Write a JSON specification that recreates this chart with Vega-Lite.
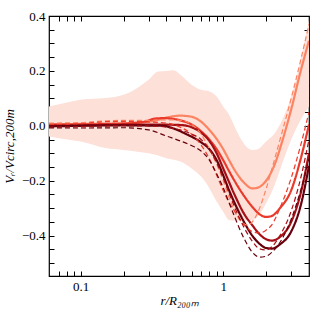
{
  "$schema": "https://vega.github.io/schema/vega-lite/v6.json",
  "width": 260,
  "height": 260,
  "autosize": "none",
  "padding": {"left": 49, "top": 16, "right": 16, "bottom": 49},
  "config": {
    "view": {"stroke": "black", "strokeWidth": 1.2},
    "axis": {"grid": false, "domain": false, "ticks": true, "tickColor": "black", "tickWidth": 1, "labelFont": "Liberation Serif", "labelFontSize": 13, "labelColor": "black", "titleFont": "Liberation Serif", "titleFontSize": 13, "titleFontWeight": "normal", "titleColor": "black"}
  },
  "resolve": {"axis": {"x": "independent", "y": "independent"}},
  "datasets": {
    "band": [
      {"r": 0.06, "lo": -0.039, "hi": 0.07},
      {"r": 0.08, "lo": -0.05, "hi": 0.085},
      {"r": 0.1, "lo": -0.057, "hi": 0.095},
      {"r": 0.15, "lo": -0.081, "hi": 0.101},
      {"r": 0.2, "lo": -0.088, "hi": 0.113},
      {"r": 0.25, "lo": -0.094, "hi": 0.138},
      {"r": 0.3, "lo": -0.1, "hi": 0.168},
      {"r": 0.35, "lo": -0.108, "hi": 0.198},
      {"r": 0.4, "lo": -0.118, "hi": 0.2},
      {"r": 0.45, "lo": -0.124, "hi": 0.202},
      {"r": 0.5, "lo": -0.13, "hi": 0.186},
      {"r": 0.6, "lo": -0.155, "hi": 0.15},
      {"r": 0.7, "lo": -0.185, "hi": 0.131},
      {"r": 0.8, "lo": -0.227, "hi": 0.125},
      {"r": 0.9, "lo": -0.276, "hi": 0.107},
      {"r": 1.0, "lo": -0.313, "hi": 0.07},
      {"r": 1.1, "lo": -0.343, "hi": 0.04},
      {"r": 1.2, "lo": -0.345, "hi": -0.002},
      {"r": 1.3, "lo": -0.345, "hi": -0.039},
      {"r": 1.45, "lo": -0.345, "hi": -0.075},
      {"r": 1.6, "lo": -0.343, "hi": -0.088},
      {"r": 1.75, "lo": -0.331, "hi": -0.085},
      {"r": 2.0, "lo": -0.282, "hi": -0.057},
      {"r": 2.3, "lo": -0.215, "hi": -0.027},
      {"r": 2.6, "lo": -0.136, "hi": 0.022},
      {"r": 3.0, "lo": -0.051, "hi": 0.107},
      {"r": 3.5, "lo": 0.022, "hi": 0.24},
      {"r": 4.0, "lo": 0.07, "hi": 0.387}
    ],
    "lines": [
      {"s": "a", "t": "solid", "r": 0.06, "v": 0.005}, {"s": "a", "t": "solid", "r": 0.1, "v": 0.007}, {"s": "a", "t": "solid", "r": 0.2, "v": 0.009}, {"s": "a", "t": "solid", "r": 0.3, "v": 0.015}, {"s": "a", "t": "solid", "r": 0.35, "v": 0.022}, {"s": "a", "t": "solid", "r": 0.4, "v": 0.03}, {"s": "a", "t": "solid", "r": 0.5, "v": 0.037}, {"s": "a", "t": "solid", "r": 0.6, "v": 0.033}, {"s": "a", "t": "solid", "r": 0.7, "v": 0.015}, {"s": "a", "t": "solid", "r": 0.8, "v": -0.015}, {"s": "a", "t": "solid", "r": 0.9, "v": -0.048}, {"s": "a", "t": "solid", "r": 1.0, "v": -0.085}, {"s": "a", "t": "solid", "r": 1.1, "v": -0.125}, {"s": "a", "t": "solid", "r": 1.2, "v": -0.16}, {"s": "a", "t": "solid", "r": 1.4, "v": -0.207}, {"s": "a", "t": "solid", "r": 1.6, "v": -0.228}, {"s": "a", "t": "solid", "r": 1.75, "v": -0.225}, {"s": "a", "t": "solid", "r": 2.0, "v": -0.2}, {"s": "a", "t": "solid", "r": 2.3, "v": -0.14}, {"s": "a", "t": "solid", "r": 2.6, "v": -0.055}, {"s": "a", "t": "solid", "r": 3.0, "v": 0.06}, {"s": "a", "t": "solid", "r": 3.5, "v": 0.2}, {"s": "a", "t": "solid", "r": 4.0, "v": 0.31},
      {"s": "b", "t": "solid", "r": 0.06, "v": 0.004}, {"s": "b", "t": "solid", "r": 0.1, "v": 0.005}, {"s": "b", "t": "solid", "r": 0.2, "v": 0.008}, {"s": "b", "t": "solid", "r": 0.28, "v": 0.015}, {"s": "b", "t": "solid", "r": 0.33, "v": 0.026}, {"s": "b", "t": "solid", "r": 0.38, "v": 0.028}, {"s": "b", "t": "solid", "r": 0.45, "v": 0.025}, {"s": "b", "t": "solid", "r": 0.5, "v": 0.02}, {"s": "b", "t": "solid", "r": 0.6, "v": 0.005}, {"s": "b", "t": "solid", "r": 0.7, "v": -0.02}, {"s": "b", "t": "solid", "r": 0.8, "v": -0.05}, {"s": "b", "t": "solid", "r": 0.9, "v": -0.085}, {"s": "b", "t": "solid", "r": 1.0, "v": -0.125}, {"s": "b", "t": "solid", "r": 1.1, "v": -0.165}, {"s": "b", "t": "solid", "r": 1.2, "v": -0.2}, {"s": "b", "t": "solid", "r": 1.4, "v": -0.255}, {"s": "b", "t": "solid", "r": 1.6, "v": -0.295}, {"s": "b", "t": "solid", "r": 1.8, "v": -0.322}, {"s": "b", "t": "solid", "r": 2.0, "v": -0.332}, {"s": "b", "t": "solid", "r": 2.2, "v": -0.328}, {"s": "b", "t": "solid", "r": 2.5, "v": -0.3}, {"s": "b", "t": "solid", "r": 3.0, "v": -0.235}, {"s": "b", "t": "solid", "r": 3.5, "v": -0.12}, {"s": "b", "t": "solid", "r": 4.0, "v": 0.005},
      {"s": "c", "t": "solid", "r": 0.06, "v": 0.0}, {"s": "c", "t": "solid", "r": 0.1, "v": 0.002}, {"s": "c", "t": "solid", "r": 0.2, "v": 0.004}, {"s": "c", "t": "solid", "r": 0.3, "v": 0.004}, {"s": "c", "t": "solid", "r": 0.4, "v": 0.004}, {"s": "c", "t": "solid", "r": 0.5, "v": 0.003}, {"s": "c", "t": "solid", "r": 0.6, "v": -0.005}, {"s": "c", "t": "solid", "r": 0.7, "v": -0.025}, {"s": "c", "t": "solid", "r": 0.8, "v": -0.055}, {"s": "c", "t": "solid", "r": 0.9, "v": -0.1}, {"s": "c", "t": "solid", "r": 1.0, "v": -0.155}, {"s": "c", "t": "solid", "r": 1.1, "v": -0.205}, {"s": "c", "t": "solid", "r": 1.2, "v": -0.25}, {"s": "c", "t": "solid", "r": 1.4, "v": -0.32}, {"s": "c", "t": "solid", "r": 1.6, "v": -0.362}, {"s": "c", "t": "solid", "r": 1.8, "v": -0.395}, {"s": "c", "t": "solid", "r": 2.0, "v": -0.413}, {"s": "c", "t": "solid", "r": 2.2, "v": -0.418}, {"s": "c", "t": "solid", "r": 2.5, "v": -0.405}, {"s": "c", "t": "solid", "r": 3.0, "v": -0.35}, {"s": "c", "t": "solid", "r": 3.5, "v": -0.245}, {"s": "c", "t": "solid", "r": 4.0, "v": -0.1},
      {"s": "d", "t": "solid", "r": 0.06, "v": -0.002}, {"s": "d", "t": "solid", "r": 0.1, "v": 0.0}, {"s": "d", "t": "solid", "r": 0.2, "v": 0.002}, {"s": "d", "t": "solid", "r": 0.3, "v": 0.001}, {"s": "d", "t": "solid", "r": 0.38, "v": 0.0}, {"s": "d", "t": "solid", "r": 0.45, "v": -0.01}, {"s": "d", "t": "solid", "r": 0.55, "v": -0.03}, {"s": "d", "t": "solid", "r": 0.7, "v": -0.06}, {"s": "d", "t": "solid", "r": 0.8, "v": -0.085}, {"s": "d", "t": "solid", "r": 0.9, "v": -0.125}, {"s": "d", "t": "solid", "r": 1.0, "v": -0.18}, {"s": "d", "t": "solid", "r": 1.1, "v": -0.235}, {"s": "d", "t": "solid", "r": 1.2, "v": -0.28}, {"s": "d", "t": "solid", "r": 1.4, "v": -0.35}, {"s": "d", "t": "solid", "r": 1.6, "v": -0.4}, {"s": "d", "t": "solid", "r": 1.8, "v": -0.43}, {"s": "d", "t": "solid", "r": 2.0, "v": -0.445}, {"s": "d", "t": "solid", "r": 2.2, "v": -0.447}, {"s": "d", "t": "solid", "r": 2.5, "v": -0.432}, {"s": "d", "t": "solid", "r": 3.0, "v": -0.385}, {"s": "d", "t": "solid", "r": 3.5, "v": -0.29}, {"s": "d", "t": "solid", "r": 4.0, "v": -0.145},
      {"s": "a", "t": "dashed", "r": 0.06, "v": 0.01}, {"s": "a", "t": "dashed", "r": 0.1, "v": 0.012}, {"s": "a", "t": "dashed", "r": 0.15, "v": 0.018}, {"s": "a", "t": "dashed", "r": 0.2, "v": 0.02}, {"s": "a", "t": "dashed", "r": 0.3, "v": 0.02}, {"s": "a", "t": "dashed", "r": 0.4, "v": 0.022}, {"s": "a", "t": "dashed", "r": 0.5, "v": 0.02}, {"s": "a", "t": "dashed", "r": 0.6, "v": 0.005}, {"s": "a", "t": "dashed", "r": 0.7, "v": -0.03}, {"s": "a", "t": "dashed", "r": 0.8, "v": -0.085}, {"s": "a", "t": "dashed", "r": 0.9, "v": -0.14}, {"s": "a", "t": "dashed", "r": 1.0, "v": -0.2}, {"s": "a", "t": "dashed", "r": 1.1, "v": -0.26}, {"s": "a", "t": "dashed", "r": 1.2, "v": -0.31}, {"s": "a", "t": "dashed", "r": 1.35, "v": -0.35}, {"s": "a", "t": "dashed", "r": 1.5, "v": -0.362}, {"s": "a", "t": "dashed", "r": 1.65, "v": -0.34}, {"s": "a", "t": "dashed", "r": 1.8, "v": -0.3}, {"s": "a", "t": "dashed", "r": 2.0, "v": -0.23}, {"s": "a", "t": "dashed", "r": 2.3, "v": -0.12}, {"s": "a", "t": "dashed", "r": 2.6, "v": -0.02}, {"s": "a", "t": "dashed", "r": 3.0, "v": 0.1}, {"s": "a", "t": "dashed", "r": 3.5, "v": 0.24}, {"s": "a", "t": "dashed", "r": 4.0, "v": 0.37},
      {"s": "b", "t": "dashed", "r": 0.06, "v": 0.005}, {"s": "b", "t": "dashed", "r": 0.1, "v": 0.008}, {"s": "b", "t": "dashed", "r": 0.15, "v": 0.015}, {"s": "b", "t": "dashed", "r": 0.2, "v": 0.016}, {"s": "b", "t": "dashed", "r": 0.3, "v": 0.014}, {"s": "b", "t": "dashed", "r": 0.4, "v": 0.01}, {"s": "b", "t": "dashed", "r": 0.5, "v": -0.005}, {"s": "b", "t": "dashed", "r": 0.6, "v": -0.03}, {"s": "b", "t": "dashed", "r": 0.7, "v": -0.07}, {"s": "b", "t": "dashed", "r": 0.8, "v": -0.12}, {"s": "b", "t": "dashed", "r": 0.9, "v": -0.18}, {"s": "b", "t": "dashed", "r": 1.0, "v": -0.235}, {"s": "b", "t": "dashed", "r": 1.1, "v": -0.28}, {"s": "b", "t": "dashed", "r": 1.2, "v": -0.31}, {"s": "b", "t": "dashed", "r": 1.4, "v": -0.36}, {"s": "b", "t": "dashed", "r": 1.6, "v": -0.385}, {"s": "b", "t": "dashed", "r": 1.8, "v": -0.39}, {"s": "b", "t": "dashed", "r": 2.0, "v": -0.38}, {"s": "b", "t": "dashed", "r": 2.2, "v": -0.36}, {"s": "b", "t": "dashed", "r": 2.5, "v": -0.3}, {"s": "b", "t": "dashed", "r": 3.0, "v": -0.19}, {"s": "b", "t": "dashed", "r": 3.5, "v": -0.07}, {"s": "b", "t": "dashed", "r": 4.0, "v": 0.05},
      {"s": "c", "t": "dashed", "r": 0.06, "v": -0.005}, {"s": "c", "t": "dashed", "r": 0.1, "v": -0.003}, {"s": "c", "t": "dashed", "r": 0.2, "v": 0.0}, {"s": "c", "t": "dashed", "r": 0.3, "v": 0.0}, {"s": "c", "t": "dashed", "r": 0.4, "v": -0.005}, {"s": "c", "t": "dashed", "r": 0.5, "v": -0.015}, {"s": "c", "t": "dashed", "r": 0.6, "v": -0.03}, {"s": "c", "t": "dashed", "r": 0.7, "v": -0.05}, {"s": "c", "t": "dashed", "r": 0.8, "v": -0.085}, {"s": "c", "t": "dashed", "r": 0.9, "v": -0.135}, {"s": "c", "t": "dashed", "r": 1.0, "v": -0.19}, {"s": "c", "t": "dashed", "r": 1.1, "v": -0.245}, {"s": "c", "t": "dashed", "r": 1.2, "v": -0.295}, {"s": "c", "t": "dashed", "r": 1.4, "v": -0.37}, {"s": "c", "t": "dashed", "r": 1.6, "v": -0.42}, {"s": "c", "t": "dashed", "r": 1.8, "v": -0.448}, {"s": "c", "t": "dashed", "r": 2.0, "v": -0.452}, {"s": "c", "t": "dashed", "r": 2.2, "v": -0.44}, {"s": "c", "t": "dashed", "r": 2.5, "v": -0.4}, {"s": "c", "t": "dashed", "r": 3.0, "v": -0.31}, {"s": "c", "t": "dashed", "r": 3.5, "v": -0.19}, {"s": "c", "t": "dashed", "r": 4.0, "v": -0.05},
      {"s": "d", "t": "dashed", "r": 0.06, "v": -0.008}, {"s": "d", "t": "dashed", "r": 0.1, "v": -0.008}, {"s": "d", "t": "dashed", "r": 0.2, "v": -0.007}, {"s": "d", "t": "dashed", "r": 0.3, "v": -0.015}, {"s": "d", "t": "dashed", "r": 0.4, "v": -0.037}, {"s": "d", "t": "dashed", "r": 0.5, "v": -0.055}, {"s": "d", "t": "dashed", "r": 0.6, "v": -0.072}, {"s": "d", "t": "dashed", "r": 0.7, "v": -0.092}, {"s": "d", "t": "dashed", "r": 0.8, "v": -0.125}, {"s": "d", "t": "dashed", "r": 0.9, "v": -0.175}, {"s": "d", "t": "dashed", "r": 1.0, "v": -0.225}, {"s": "d", "t": "dashed", "r": 1.1, "v": -0.28}, {"s": "d", "t": "dashed", "r": 1.2, "v": -0.33}, {"s": "d", "t": "dashed", "r": 1.4, "v": -0.41}, {"s": "d", "t": "dashed", "r": 1.6, "v": -0.46}, {"s": "d", "t": "dashed", "r": 1.8, "v": -0.478}, {"s": "d", "t": "dashed", "r": 2.0, "v": -0.475}, {"s": "d", "t": "dashed", "r": 2.2, "v": -0.46}, {"s": "d", "t": "dashed", "r": 2.5, "v": -0.425}, {"s": "d", "t": "dashed", "r": 3.0, "v": -0.34}, {"s": "d", "t": "dashed", "r": 3.5, "v": -0.235}, {"s": "d", "t": "dashed", "r": 4.0, "v": -0.12}
    ]
  },
  "layer": [
    {
      "data": {"name": "band"},
      "mark": {"type": "area", "color": "#fde0d8", "opacity": 1, "interpolate": "monotone", "clip": true},
      "encoding": {
        "x": {"field": "r", "type": "quantitative", "scale": {"type": "log", "domain": [0.06, 4], "nice": false},
          "axis": {"orient": "bottom", "values": [0.07, 0.08, 0.09, 0.1, 0.2, 0.3, 0.4, 0.5, 0.6, 0.7, 0.8, 0.9, 1, 2, 3],
            "labelExpr": "datum.value == 0.1 ? '0.1' : (datum.value == 1 ? '1' : '')",
            "tickSize": -5, "labelPadding": 9, "labelFlush": false, "labelOverlap": false,
            "title": "r/R₂₀₀ₘ", "titleFontStyle": "italic", "titleX": 130, "titleY": 24, "titleBaseline": "middle"}},
        "y": {"field": "hi", "type": "quantitative", "scale": {"domain": [-0.547, 0.4], "nice": false, "zero": false},
          "axis": {"orient": "left", "values": [-0.5, -0.45, -0.4, -0.35, -0.3, -0.25, -0.2, -0.15, -0.1, -0.05, 0, 0.05, 0.1, 0.15, 0.2, 0.25, 0.3, 0.35, 0.4],
            "labelExpr": "abs(datum.value*5 - round(datum.value*5)) < 0.001 ? replace(format(datum.value, '.1f'), '-', '−') : ''",
            "tickSize": -5, "labelPadding": 9, "labelFlush": false, "labelOverlap": false,
            "title": "Vᵣ/Vcirc,200m", "titleFontStyle": "italic", "titleX": -40, "titleY": 130, "titleAngle": -90, "titleBaseline": "middle", "titleAlign": "center"}},
        "y2": {"field": "lo"}
      }
    },
    {
      "data": {"name": "lines"},
      "mark": {"type": "line", "interpolate": "monotone", "clip": true},
      "encoding": {
        "x": {"field": "r", "type": "quantitative",
          "axis": {"orient": "top", "values": [0.07, 0.08, 0.09, 0.1, 0.2, 0.3, 0.4, 0.5, 0.6, 0.7, 0.8, 0.9, 1, 2, 3], "labels": false, "title": null, "tickSize": -5}},
        "y": {"field": "v", "type": "quantitative",
          "axis": {"orient": "right", "values": [-0.5, -0.45, -0.4, -0.35, -0.3, -0.25, -0.2, -0.15, -0.1, -0.05, 0, 0.05, 0.1, 0.15, 0.2, 0.25, 0.3, 0.35, 0.4], "labels": false, "title": null, "tickSize": -5}},
        "color": {"field": "s", "type": "nominal", "scale": {"domain": ["a", "b", "c", "d"], "range": ["#fc8463", "#ea3a2c", "#a50f15", "#67000d"]}, "legend": null},
        "strokeDash": {"field": "t", "type": "nominal", "scale": {"domain": ["solid", "dashed"], "range": [[1, 0], [5, 3]]}, "legend": null},
        "strokeWidth": {"field": "t", "type": "nominal", "scale": {"domain": ["solid", "dashed"], "range": [2.2, 1.2]}, "legend": null}
      }
    }
  ]
}
